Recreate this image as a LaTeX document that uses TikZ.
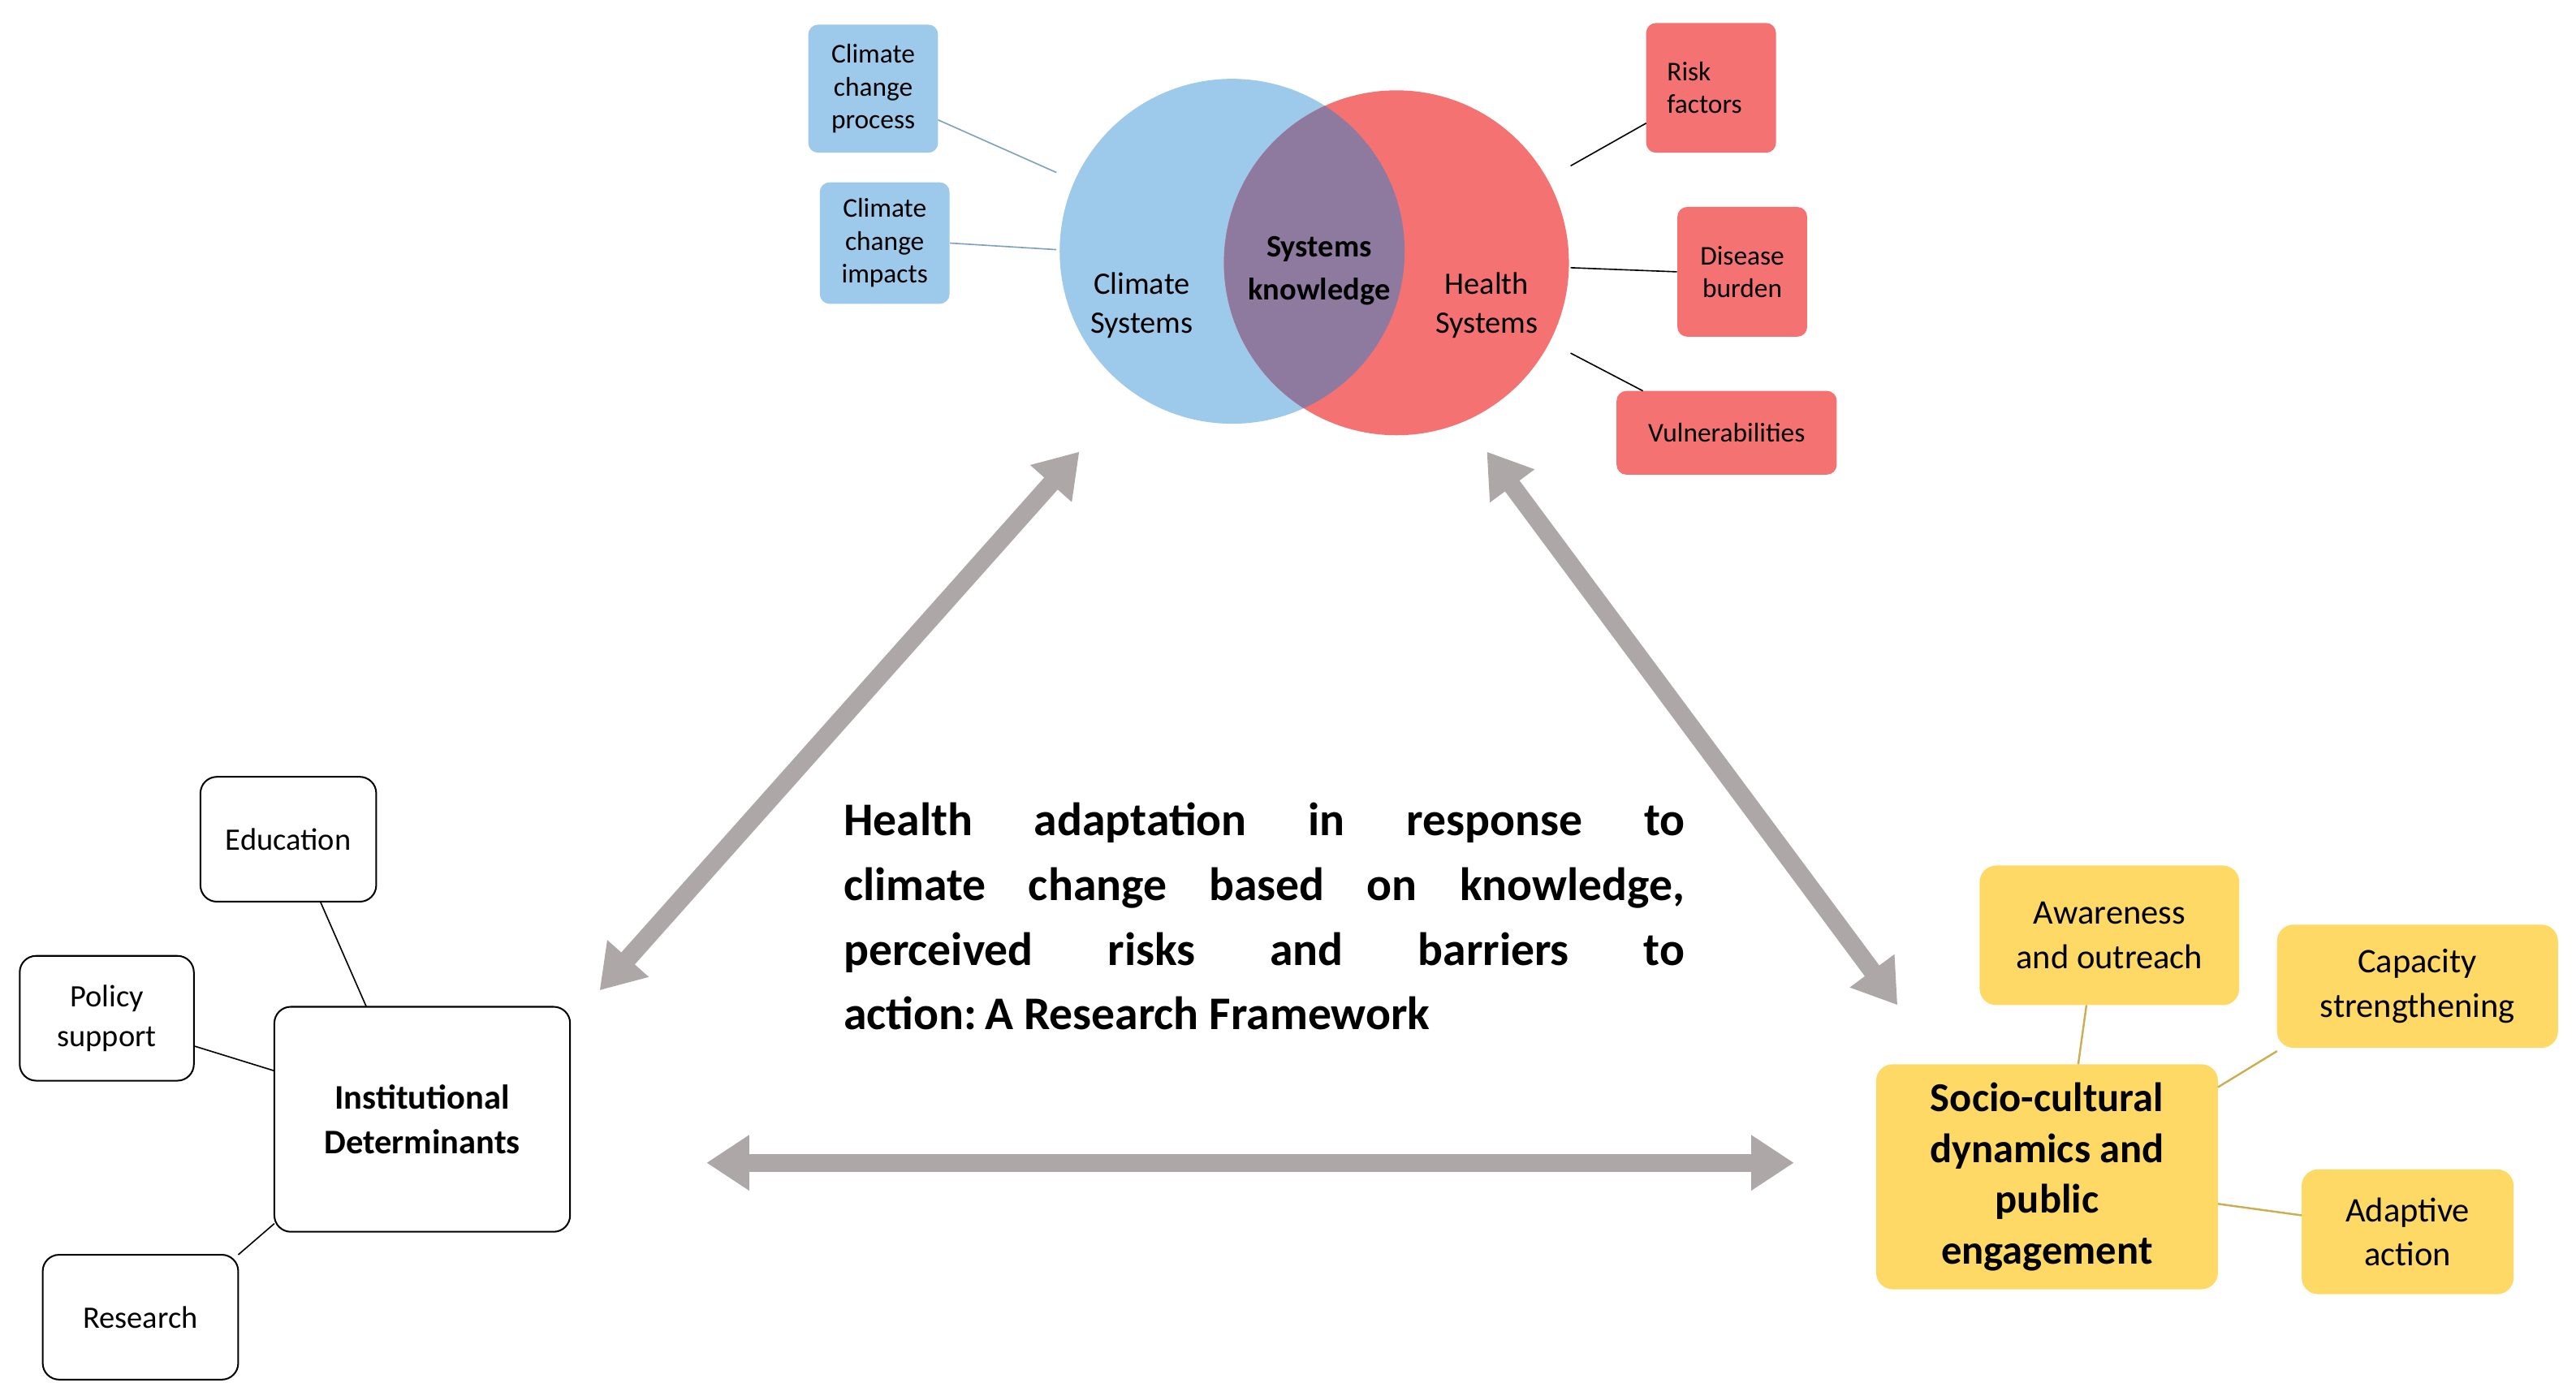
\documentclass[tikz,border=0pt]{standalone}
\usepackage{fontspec}
\setmainfont{Carlito}
\usetikzlibrary{arrows.meta}
\definecolor{cblue}{HTML}{9DC9EA}
\definecolor{cred}{HTML}{F47272}
\definecolor{cpur}{HTML}{8E7A9F}
\definecolor{cyel}{HTML}{FFD966}
\definecolor{cgrey}{HTML}{ADA8A7}
\begin{document}
\begin{tikzpicture}[x=1pt,y=-1pt,
 bbox/.style={fill=cblue,rounded corners=6pt,align=center,font=\fontsize{16.5}{20}\selectfont},
 rbox/.style={fill=cred,rounded corners=6pt,align=center,font=\fontsize{16.5}{20}\selectfont},
 ybox/.style={fill=cyel,rounded corners=10pt,align=center,font=\fontsize{21}{27}\selectfont},
 wbox/.style={draw=black,line width=1pt,rounded corners=10pt,align=center,font=\fontsize{19}{24}\selectfont},
 bl/.style={cblue!80!black,line width=0.8pt},
 rl/.style={black,line width=0.8pt},
 yl/.style={cyel!80!black,line width=1.2pt},
 gar/.style={cgrey,line width=11pt,{Triangle[length=26pt,width=32pt]}-{Triangle[length=26pt,width=32pt]}}]
\useasboundingbox (0,0) rectangle (1568,852);
% circles
\fill[cblue] (750,153) circle (105);
\fill[cred] (850,160) circle (105);
\begin{scope}
\clip (750,153) circle (105);
\fill[cpur] (850,160) circle (105);
\end{scope}
\node[font=\fontsize{19}{24}\selectfont,align=center] (cs) at (695,186) {Climate\\Systems};
\node[font=\fontsize{19}{26}\selectfont\bfseries,align=center] (sk) at (803,165) {Systems\\knowledge};
\node[font=\fontsize{19}{24}\selectfont,align=center] (hs) at (905,186) {Health\\Systems};
\coordinate (c1) at (643,105); \coordinate (c2) at (643,152);
\coordinate (r1) at (956,101); \coordinate (r2) at (956,163); \coordinate (r3) at (956,215);
% blue boxes
\node[bbox,minimum width=79pt,minimum height=78pt] (ccp) at (531.5,54) {Climate\\change\\process};
\node[bbox,minimum width=79pt,minimum height=74pt] (cci) at (538.5,148) {Climate\\change\\impacts};
\draw[bl] (571,73) -- (c1);
\draw[bl] (cci.east) -- (c2);
% red boxes
\node[rbox,minimum width=79pt,minimum height=79pt,align=left] (rf) at (1041.5,53.5) {Risk\\factors\hspace*{8pt}};
\node[rbox,minimum width=79pt,minimum height=79pt] (db) at (1060.5,165.5) {Disease\\burden};
\node[rbox,minimum width=134pt,minimum height=51pt] (vu) at (1051,263.5) {Vulnerabilities};
\draw[rl] (r1) -- (1002,75);
\draw[rl] (r2) -- (db.west);
\draw[rl] (r3) -- (1000,238);
% arrows
\coordinate (a1) at (365,603); \coordinate (a2) at (657,275);
\coordinate (a3) at (905,275); \coordinate (a4) at (1155,612);
\coordinate (a5) at (430,708); \coordinate (a6) at (1092,708);
\draw[gar] (a1) -- (a2);
\draw[gar] (a3) -- (a4);
\draw[gar] (a5) -- (a6);
% title
\node[text width=512pt,align=justify,font=\fontsize{28.5}{39.5}\selectfont\bfseries,anchor=north west] (t) at (510,485)
{Health adaptation in response to\linebreak climate change based on knowledge,\linebreak perceived risks and barriers to\linebreak action:\,A Research Framework};
% left
\node[wbox,minimum width=180pt,minimum height=137pt,font=\fontsize{21}{27}\selectfont\bfseries] (id) at (257,681.5) {Institutional\\Determinants};
\node[wbox,minimum width=107pt,minimum height=76pt] (ed) at (175.5,511) {Education};
\node[wbox,minimum width=106pt,minimum height=76pt] (ps) at (65,620) {Policy\\support};
\node[wbox,minimum width=119pt,minimum height=76pt] (re) at (85.5,802) {Research};
\draw[rl] (195,549) -- (223,613);
\draw[rl] (ps.east |- 0,637) -- (167,652);
\draw[rl] (145,764) -- (167,745);
% right
\node[ybox,minimum width=208pt,minimum height=137pt,font=\fontsize{25}{31}\selectfont\bfseries] (sc) at (1246,716.5) {Socio-cultural\\dynamics and\\public\\engagement};
\node[ybox,minimum width=158pt,minimum height=85pt] (aw) at (1284,569.5) {Awareness\\and outreach};
\node[ybox,minimum width=171pt,minimum height=75pt] (cap) at (1471.5,600.5) {Capacity\\strengthening};
\node[ybox,minimum width=129pt,minimum height=76pt] (aa) at (1465.5,750) {Adaptive\\action};
\draw[yl] (1270,612) -- (1265,648);
\draw[yl] (1386,640) -- (1350,662);
\draw[yl] (1350,733) -- (1401,740);
\end{tikzpicture}
\end{document}
